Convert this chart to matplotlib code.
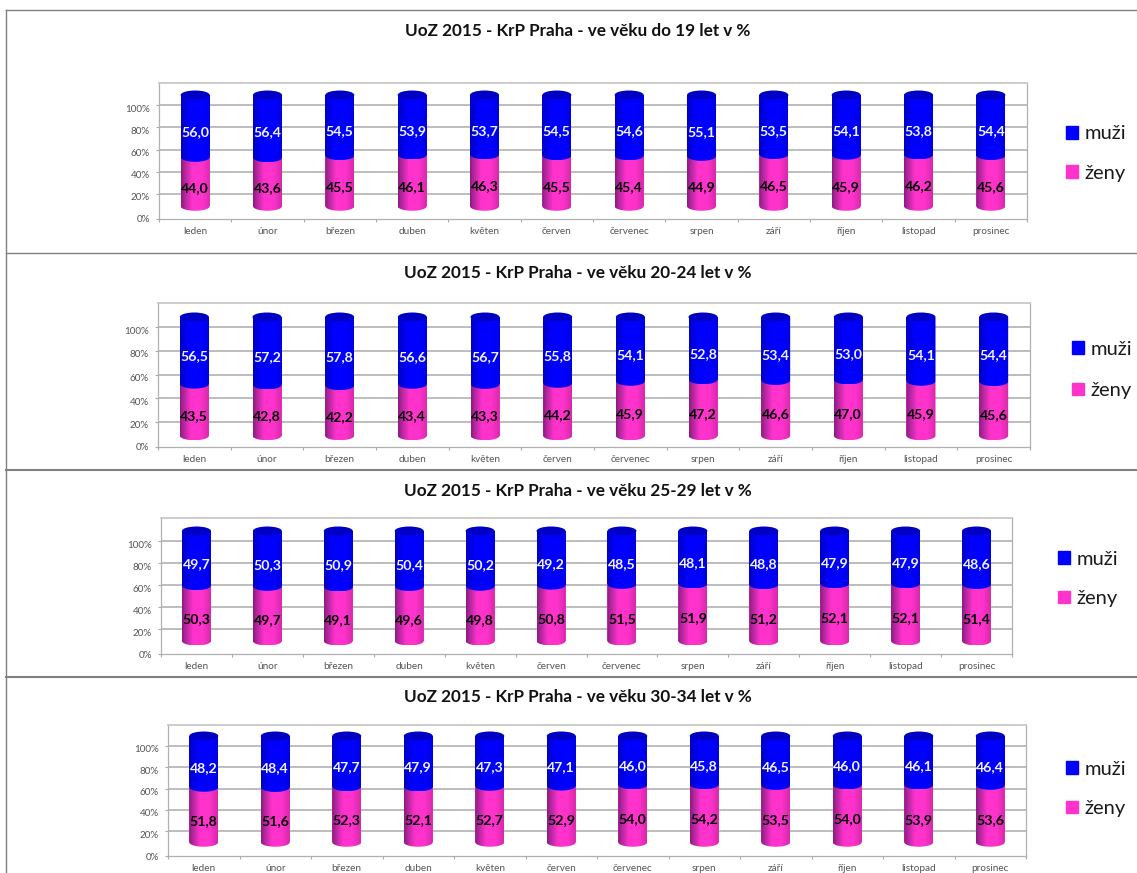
import matplotlib
matplotlib.use("Agg")
import matplotlib.pyplot as plt
import matplotlib.patches as mpatches
import matplotlib.transforms as mtrans
from matplotlib.colors import LinearSegmentedColormap
import numpy as np

plt.rcParams['font.family'] = ['Lato', 'DejaVu Sans']

W, H = 1137, 873

# data
months = ["leden", "únor", "březen", "duben", "květen", "červen",
          "červenec", "srpen", "září", "říjen", "listopad", "prosinec"]
ages = ["do 19", "20-24", "25-29", "30-34"]
ytick_values = [0, 20, 40, 60, 80, 100]

muzi_19 = [56.0, 56.4, 54.5, 53.9, 53.7, 54.5, 54.6, 55.1, 53.5, 54.1, 53.8, 54.4]
zeny_19 = [44.0, 43.6, 45.5, 46.1, 46.3, 45.5, 45.4, 44.9, 46.5, 45.9, 46.2, 45.6]
muzi_24 = [56.5, 57.2, 57.8, 56.6, 56.7, 55.8, 54.1, 52.8, 53.4, 53.0, 54.1, 54.4]
zeny_24 = [43.5, 42.8, 42.2, 43.4, 43.3, 44.2, 45.9, 47.2, 46.6, 47.0, 45.9, 45.6]
muzi_29 = [49.7, 50.3, 50.9, 50.4, 50.2, 49.2, 48.5, 48.1, 48.8, 47.9, 47.9, 48.6]
zeny_29 = [50.3, 49.7, 49.1, 49.6, 49.8, 50.8, 51.5, 51.9, 51.2, 52.1, 52.1, 51.4]
muzi_34 = [48.2, 48.4, 47.7, 47.9, 47.3, 47.1, 46.0, 45.8, 46.5, 46.0, 46.1, 46.4]
zeny_34 = [51.8, 51.6, 52.3, 52.1, 52.7, 52.9, 54.0, 54.2, 53.5, 54.0, 53.9, 53.6]

muzi_all = [muzi_19, muzi_24, muzi_29, muzi_34]
zeny_all = [zeny_19, zeny_24, zeny_29, zeny_34]

# layout in pixels of the picture, one entry per panel
plot_left = [159, 158, 161, 168]
plot_right = [1027, 1030, 1012, 1026]
wall_top = [83, 303, 518, 725]
floor_y = [219, 447, 654, 856]
grid100_y = [105, 327, 541, 746]
grid20_y = [194, 422, 629, 831]
title_y = [30.5, 273.5, 491.5, 697.5]
legend_x = [1066, 1072, 1058, 1066]
legend_y = [153.5, 370, 579, 789]
legend_gap = [1.1, 1.2, 1.1, 1.1]

cyl_width = 29      # px
cyl_depth = 10      # px, how far the cylinders stand above the gridlines
cyl_ell = 4.5       # px, half height of the ellipses

pink_cm = LinearSegmentedColormap.from_list(
    "pink3d", [(0, "#8a1c7c"), (0.12, "#b0259c"), (0.38, "#ff33cc"),
               (0.72, "#ff33cc"), (1, "#d42aa8")])
blue_cm = LinearSegmentedColormap.from_list(
    "blue3d", [(0, "#0000c0"), (0.3, "#0000ff"), (0.75, "#0000ff"), (1, "#0000e0")])
grad = np.linspace(0, 1, 128).reshape(1, -1)

fig = plt.figure(figsize=(W / 100, H / 100), dpi=100)
fig.patch.set_facecolor("white")


def segment(ax, xc, half, low, high, ell, cmap):
    # body of one cylinder part, shaded from left to right
    t = np.linspace(np.pi, 2 * np.pi, 40)
    xs = xc + half * np.cos(t)
    front = np.sin(t) * ell
    verts = np.vstack([np.column_stack([xs, low + front]),
                       np.column_stack([xs[::-1], high + front[::-1]])])
    poly = mpatches.Polygon(verts, closed=True, transform=ax.transData, fc="none", ec="none")
    ax.add_patch(poly)
    im = ax.imshow(grad, cmap=cmap, aspect="auto", zorder=3,
                   extent=[xc - half, xc + half, low - ell, high + ell])
    im.set_clip_path(poly)


def draw_panel(i, zeny, muzi):
    left, right = plot_left[i], plot_right[i]
    scale = (grid20_y[i] - grid100_y[i]) / 80.0
    grid0 = grid100_y[i] + 100 * scale
    ymin = (grid0 - floor_y[i]) / scale
    ymax = (grid0 - wall_top[i]) / scale

    ax = fig.add_axes([left / W, 1 - floor_y[i] / H, (right - left) / W,
                       (floor_y[i] - wall_top[i]) / H])
    x = np.arange(len(months)) + 0.5
    step = (right - left) / len(months)
    half = cyl_width / step / 2
    depth = cyl_depth / scale
    ell = cyl_ell / scale

    for v in ytick_values[1:]:
        ax.axhline(v, color="#b8b8b8", lw=1.3, zorder=1)

    ax.bar(x, zeny, width=2 * half, bottom=depth, color="#ff33cc", zorder=2)
    ax.bar(x, muzi, width=2 * half, bottom=depth + np.array(zeny), color="#0000ff", zorder=2)

    for k in range(len(months)):
        b = depth + zeny[k]
        top = b + muzi[k]
        segment(ax, x[k], half, depth, b, ell, pink_cm)
        segment(ax, x[k], half, b, top, ell, blue_cm)
        ax.add_patch(mpatches.Ellipse((x[k], top), 2 * half, 2 * ell,
                                      fc="#0000c4", ec="none", zorder=4))
        ax.annotate(f"{muzi[k]:.1f}".replace(".", ","), (x[k], (b + top) / 2),
                    xytext=(0, -6), textcoords="offset pixels", ha="center", va="center",
                    color="#f2f2ff", fontsize=10.2, fontweight="bold", zorder=6)
        ax.annotate(f"{zeny[k]:.1f}".replace(".", ","), (x[k], (depth + b) / 2),
                    xytext=(0, -6), textcoords="offset pixels", ha="center", va="center",
                    color="black", fontsize=10.2, fontweight="bold", zorder=6)

    ax.set_xlim(0, len(months))
    ax.set_ylim(ymin, ymax)

    ax.set_xticks(np.arange(len(months) + 1))
    ax.set_xticklabels([])
    ax.set_xticks(x, minor=True)
    ax.set_xticklabels(months, minor=True, fontsize=7.2, color="#555555")
    ax.tick_params(axis="x", which="major", length=2.5, width=0.8, color="#aaaaaa")
    ax.tick_params(axis="x", which="minor", length=0, pad=6)

    # the 0% tick sits on the front edge of the floor
    ax.set_yticks([ymin] + ytick_values[1:])
    ax.set_yticklabels([f"{v}%" for v in ytick_values], fontsize=7.1, color="#555555")
    ax.tick_params(axis="y", length=2.5, width=0.8, color="#aaaaaa", pad=4)
    for n, lab in enumerate(ax.get_yticklabels()):
        dy = 0 if n == 0 else -3 / 100
        lab.set_transform(lab.get_transform() +
                          mtrans.ScaledTranslation(0, dy, fig.dpi_scale_trans))

    for name, sp in ax.spines.items():
        sp.set_color("#b0b0b0")
        sp.set_linewidth(0.9)
    ax.spines["top"].set_color("#c8c8c8")
    ax.spines["top"].set_linewidth(1.3)

    fig.text(577.5 / W, 1 - title_y[i] / H,
             f"UoZ 2015 - KrP Praha - ve věku {ages[i]} let v %",
             ha="center", va="center", fontsize=12.3, fontweight="bold", color="#111111")

    handles = [mpatches.Patch(color="#0000ff", label="muži"),
               mpatches.Patch(color="#ff33cc", label="ženy")]
    fig.legend(handles=handles, loc="center left",
               bbox_to_anchor=(legend_x[i] / W, 1 - legend_y[i] / H),
               frameon=False, fontsize=14.5, borderpad=0, borderaxespad=0,
               handlelength=0.6, handleheight=0.6, handletextpad=0.33,
               labelspacing=legend_gap[i], labelcolor="#1a1a1a")


for i in range(len(ages)):
    draw_panel(i, zeny_all[i], muzi_all[i])

# frame lines round the pasted charts
frame = "#808080"
fig.add_artist(plt.Line2D([6 / W, 6 / W], [0, 1 - 10 / H], color=frame, lw=1.0))
fig.add_artist(plt.Line2D([6 / W, 1], [1 - 10 / H, 1 - 10 / H], color=frame, lw=1.0))
fig.add_artist(plt.Line2D([6 / W, 1], [1 - 252.5 / H, 1 - 252.5 / H], color=frame, lw=1.0))
fig.add_artist(plt.Line2D([6 / W, 1], [1 - 470 / H, 1 - 470 / H], color=frame, lw=1.5))
fig.add_artist(plt.Line2D([6 / W, 1], [1 - 677 / H, 1 - 677 / H], color=frame, lw=1.5))

fig.savefig("out.png", dpi=100)
